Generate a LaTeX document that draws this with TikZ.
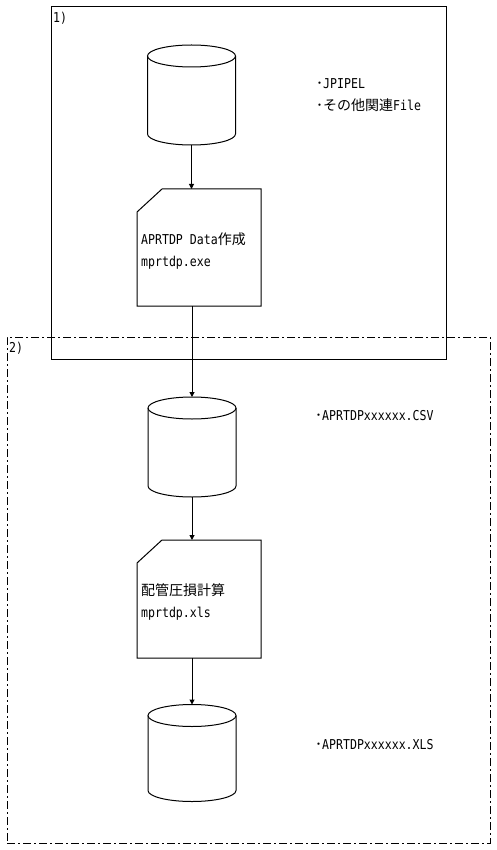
\documentclass[tikz,border=0pt]{standalone}
\usepackage{fontspec}
\setmainfont[FakeStretch=0.85]{DejaVu Sans Mono}
\newfontfamily\cjkfont{Noto Sans CJK JP}
\newcommand\J[1]{{\cjkfont\fontsize{14}{22}\selectfont #1}}
\usetikzlibrary{arrows.meta,calc}
\tikzset{
  box/.style={draw=none, inner sep=0pt, outer sep=0pt},
  frame/.style={draw, line width=1pt, inner sep=0pt, outer sep=0pt},
  lbl/.style={anchor=west, inner sep=0pt, font=\fontsize{13.6}{22}\selectfont, align=left},
  flow/.style={draw, line width=1pt, -{Triangle[width=5pt,length=5pt]}},
  dashdot/.style={dash pattern=on 8pt off 3pt on 2pt off 3pt},
  shapeline/.style={draw, line width=1pt},
}
\newcommand\drawcyl[1]{%
  \draw[shapeline] ($(#1.north)+(0,-11pt)$) ellipse [x radius=44pt, y radius=11pt];
  \draw[shapeline] ($(#1.north west)+(0,-11pt)$) -- ($(#1.south west)+(0,11pt)$)
    arc[start angle=180, end angle=360, x radius=44pt, y radius=11pt]
    -- ($(#1.north east)+(0,-11pt)$);
}
\newcommand\drawdoc[1]{%
  \draw[shapeline] (#1.south west) -- ($(#1.north west)+(0,-23pt)$)
    -- ($(#1.north west)+(25pt,0)$) -- (#1.north east) -- (#1.south east) -- cycle;
}
\begin{document}
\begin{tikzpicture}[x=1pt,y=-1pt]
\useasboundingbox (0,0) rectangle (496,850);
% frames
\node[frame, minimum width=395pt, minimum height=352pt] (b1) at (248.5,183) {};
\node[lbl] (l1) at (53,18) {1)};
\node[frame, dashdot, minimum width=483pt, minimum height=506pt] (b2) at (248.5,590) {};
\node[lbl] (l2) at (9,348) {2)};
% cylinders
\node[box, minimum width=88pt, minimum height=100pt] (c1) at (191.5,95) {};
\drawcyl{c1}
\node[box, minimum width=88pt, minimum height=100pt] (c2) at (192,447) {};
\drawcyl{c2}
\node[box, minimum width=88pt, minimum height=97pt] (c3) at (192,753) {};
\drawcyl{c3}
% documents
\node[box, minimum width=124pt, minimum height=117pt] (d1) at (199,247.5) {};
\drawdoc{d1}
\node[lbl] (t1) at ($(d1.west)+(4pt,-3.5pt)$) {APRTDP Data\J{作成}\\mprtdp.exe};
\node[box, minimum width=124pt, minimum height=118pt] (d2) at (199,599) {};
\drawdoc{d2}
\node[lbl] (t2) at ($(d2.west)+(4pt,-3pt)$) {\J{配管圧損計算}\\mprtdp.xls};
% side notes
\node[lbl] (n1) at (316,95) {\J{･}JPIPEL\\\J{･その他関連}File};
\node[lbl] (n2) at (315,416) {\J{･}APRTDPxxxxxx.CSV};
\node[lbl] (n3) at (315,745) {\J{･}APRTDPxxxxxx.XLS};
% connectors
\draw[flow] (c1.south) -- (c1.south |- d1.north);
\draw[flow] (c2.north |- d1.south) -- (c2.north);
\draw[flow] (c2.south) -- (c2.south |- d2.north);
\draw[flow] (c3.north |- d2.south) -- (c3.north);
\end{tikzpicture}
\end{document}
